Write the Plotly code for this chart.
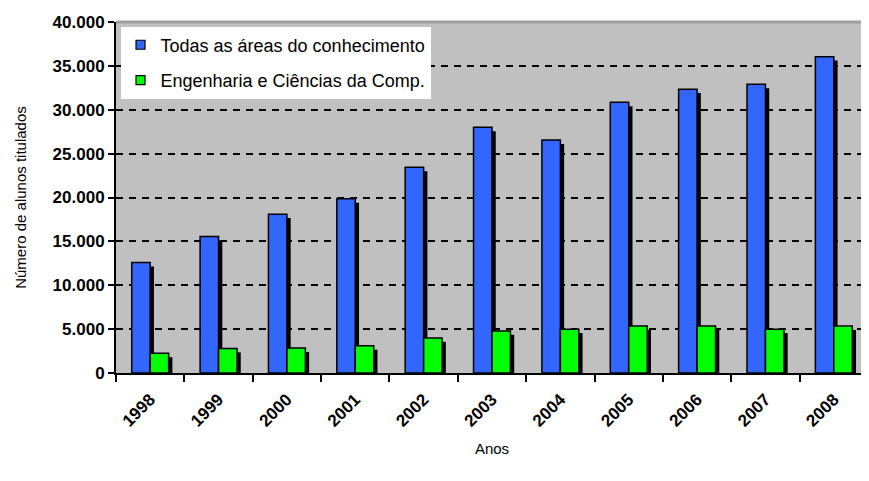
import plotly.graph_objects as go

anos = ["1998", "1999", "2000", "2001", "2002", "2003", "2004", "2005", "2006", "2007", "2008"]
todas_areas = [12600, 15550, 18100, 19850, 23450, 28000, 26550, 30850, 32350, 32900, 36050]
eng_comp = [2250, 2800, 2850, 3100, 4000, 4800, 5000, 5350, 5350, 5000, 5350]
y_tickvals = [0, 5000, 10000, 15000, 20000, 25000, 30000, 35000, 40000]
y_ticktext = ["0", "5.000", "10.000", "15.000", "20.000", "25.000", "30.000", "35.000", "40.000"]

name_all = "Todas as áreas do conhecimento"
name_eng = "Engenharia e Ciências da Comp."

BLUE = "#3366FF"
GREEN = "#00FF00"
FONT = "Liberation Sans, Arial, sans-serif"

bw = 0.27        # bar width in category units
sdx = 0.055      # shadow shift (category units)
sdy = 450        # shadow drop (value units)

fig = go.Figure()
fig.add_trace(go.Bar(x=anos, y=todas_areas, base=[-sdy] * len(anos), width=bw, offset=-bw + sdx,
                     marker=dict(color="black", line=dict(width=0)), showlegend=False, hoverinfo="skip"))
fig.add_trace(go.Bar(x=anos, y=todas_areas, width=bw, offset=-bw, name=name_all,
                     marker=dict(color=BLUE, line=dict(color="black", width=1.5)), showlegend=False))
fig.add_trace(go.Bar(x=anos, y=eng_comp, base=[-sdy] * len(anos), width=bw, offset=sdx,
                     marker=dict(color="black", line=dict(width=0)), showlegend=False, hoverinfo="skip"))
fig.add_trace(go.Bar(x=anos, y=eng_comp, width=bw, offset=0, name=name_eng,
                     marker=dict(color=GREEN, line=dict(color="black", width=1.5)), showlegend=False))

fig.add_trace(go.Scatter(x=[None], y=[None], mode="markers", name=name_all, legendgroup="a",
                         marker=dict(symbol="square", size=9, color=BLUE, line=dict(color="black", width=1.2))))
fig.add_trace(go.Scatter(x=[None], y=[None], mode="markers", name=name_eng, legendgroup="b",
                         marker=dict(symbol="square", size=9, color=GREEN, line=dict(color="black", width=1.2))))

fig.update_layout(
    width=861, height=473,
    margin=dict(l=108, r=1, t=14, b=108),
    paper_bgcolor="white",
    plot_bgcolor="#C0C0C0",
    barmode="overlay",
    font=dict(family=FONT, size=16, color="black"),
    legend=dict(x=0.006, y=0.987, xanchor="left", yanchor="top", bgcolor="white", borderwidth=0,
                font=dict(size=18, color="black"), tracegroupgap=9, itemwidth=30),
    xaxis=dict(
        type="category", categoryorder="array", categoryarray=anos,
        tickangle=-45, ticks="outside", tickson="boundaries", ticklen=7, tickwidth=2, tickcolor="black",
        showline=True, linecolor="black", linewidth=2, showgrid=False,
        ticklabelstandoff=8,
        tickfont=dict(size=17, family="Liberation Sans, Arial", weight="bold"),
        title=dict(text="Anos", font=dict(size=15), standoff=14),
    ),
    yaxis=dict(
        range=[0, 40000], tickvals=y_tickvals, ticktext=y_ticktext,
        ticks="outside", ticklen=6, tickwidth=2, tickcolor="black",
        showline=True, linecolor="black", linewidth=2, zeroline=False,
        showgrid=True, gridcolor="black", gridwidth=2, griddash="7px,6px",
        tickfont=dict(size=17, family="Liberation Sans, Arial", weight="bold"),
        title=dict(text="Número de alunos titulados", font=dict(size=15), standoff=22),
    ),
    shapes=[dict(type="line", xref="paper", yref="paper", x0=0, x1=1, y0=1, y1=1,
                 line=dict(color="#A0A0A0", width=3), layer="above")],
)

fig.write_html("out.html")
